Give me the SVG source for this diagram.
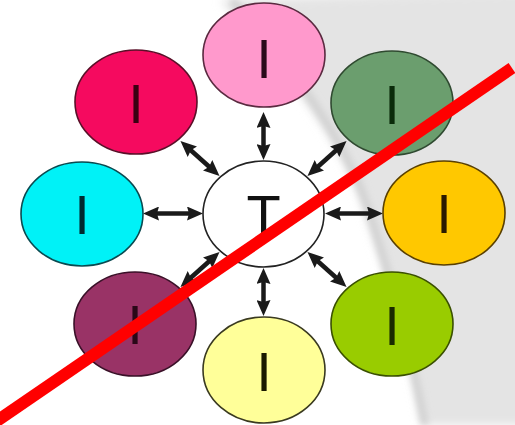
<svg xmlns="http://www.w3.org/2000/svg" width="515" height="425" viewBox="0 0 515 425">
  <defs>
    <filter id="soft" x="-20%" y="-20%" width="140%" height="140%">
      <feGaussianBlur stdDeviation="5"/>
    </filter>
    <filter id="softer" x="-20%" y="-20%" width="140%" height="140%">
      <feGaussianBlur stdDeviation="3"/>
    </filter>
    <marker id="head" viewBox="0 0 16 14" markerWidth="16" markerHeight="14" refX="4" refY="7" orient="auto-start-reverse" markerUnits="userSpaceOnUse">
      <path d="M0,0 L16,7 L0,14 L2,7 Z" fill="#1a1a1a"/>
    </marker>
  </defs>
  <style>
    .node ellipse { stroke-width: 1.6; }
    .lbl { font-family: "Liberation Sans", Arial, sans-serif; font-size: 56px; text-anchor: middle; }
    .conn line { stroke: #1a1a1a; stroke-width: 4.5; marker-start: url(#head); marker-end: url(#head); }
  </style>

  <!-- page backdrop with the grey swoosh on the right -->
  <rect width="515" height="425" fill="#ffffff"/>
  <path d="M220,0 C275,60 335,130 360,200 C385,270 405,340 422,425 L530,425 L530,-10 Z" fill="#e4e4e4" filter="url(#soft)"/>
  <path d="M232,0 C290,65 345,140 367,205 C390,275 410,345 425,425" fill="none" stroke="#d2d2d2" stroke-width="8" filter="url(#softer)"/>

  <!-- connectors -->
  <g id="connectors" class="conn">
    <line x1="263.5" y1="124" x2="263.5" y2="148"/>
    <line x1="155" y1="213.5" x2="191" y2="213.5"/>
    <line x1="337" y1="213.5" x2="371" y2="213.5"/>
    <line x1="263.5" y1="280" x2="263.5" y2="304"/>
    <line x1="189.4" y1="149" x2="210.6" y2="168"/>
    <line x1="337.6" y1="149" x2="316.4" y2="168"/>
    <line x1="189.4" y1="279" x2="210.6" y2="260"/>
    <line x1="337.6" y1="279" x2="316.4" y2="260"/>
  </g>

  <!-- central node -->
  <g id="node-t" class="node">
    <ellipse cx="263.5" cy="214" rx="60.5" ry="53" fill="#ffffff" stroke="#222222"/>
    <text class="lbl" x="263.5" y="234" fill="#111111">T</text>
  </g>

  <!-- surrounding nodes -->
  <g id="node-top" class="node">
    <ellipse cx="264" cy="55" rx="61" ry="52" fill="#ff99cc" stroke="#5a2a40"/>
    <text class="lbl" x="264" y="78" fill="#2a0a1a">I</text>
  </g>
  <g id="node-top-left" class="node">
    <ellipse cx="136" cy="102" rx="61" ry="52" fill="#f50a5f" stroke="#5a0f28"/>
    <text class="lbl" x="136" y="123" fill="#3a0012">I</text>
  </g>
  <g id="node-top-right" class="node">
    <ellipse cx="392" cy="103" rx="61" ry="52" fill="#6b9e6e" stroke="#2f4a30"/>
    <text class="lbl" x="392" y="124" fill="#0a2a0a">I</text>
  </g>
  <g id="node-left" class="node">
    <ellipse cx="82" cy="214" rx="61" ry="52" fill="#00f2f7" stroke="#0a4a50"/>
    <text class="lbl" x="82" y="234" fill="#002a30">I</text>
  </g>
  <g id="node-right" class="node">
    <ellipse cx="444" cy="213" rx="61" ry="52" fill="#ffc800" stroke="#5a4000"/>
    <text class="lbl" x="444" y="233" fill="#2a1a00">I</text>
  </g>
  <g id="node-bottom-left" class="node">
    <ellipse cx="135" cy="324" rx="61" ry="52" fill="#993366" stroke="#3a1028"/>
    <text class="lbl" x="135" y="344" fill="#2a0818">I</text>
  </g>
  <g id="node-bottom-right" class="node">
    <ellipse cx="392" cy="324" rx="61" ry="52" fill="#99cc00" stroke="#3a5000"/>
    <text class="lbl" x="392" y="345" fill="#1a2a00">I</text>
  </g>
  <g id="node-bottom" class="node">
    <ellipse cx="264" cy="370" rx="61" ry="53" fill="#ffff99" stroke="#3a3a20"/>
    <text class="lbl" x="264" y="391" fill="#1a1a00">I</text>
  </g>

  <!-- strike-through line -->
  <line x1="512" y1="68" x2="-6" y2="423" stroke="#ff0000" stroke-width="12"/>
</svg>
